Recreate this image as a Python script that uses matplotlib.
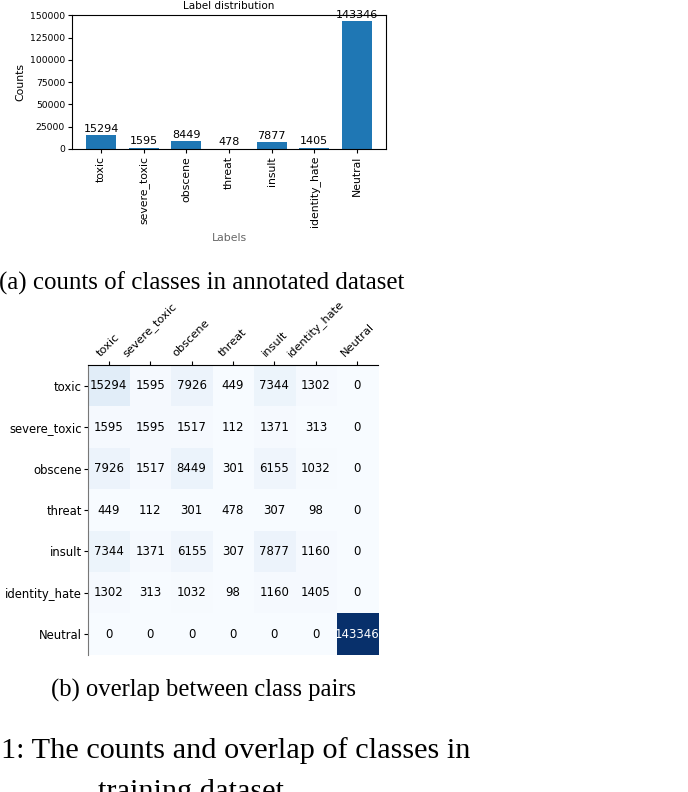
import matplotlib
matplotlib.use("Agg")
import matplotlib.pyplot as plt
from matplotlib.ticker import MultipleLocator
import numpy as np

labels = ['toxic', 'severe_toxic', 'obscene', 'threat', 'insult', 'identity_hate', 'Neutral']
counts = [15294, 1595, 8449, 478, 7877, 1405, 143346]

row_toxic = [15294, 1595, 7926, 449, 7344, 1302, 0]
row_severe = [1595, 1595, 1517, 112, 1371, 313, 0]
row_obscene = [7926, 1517, 8449, 301, 6155, 1032, 0]
row_threat = [449, 112, 301, 478, 307, 98, 0]
row_insult = [7344, 1371, 6155, 307, 7877, 1160, 0]
row_identity = [1302, 313, 1032, 98, 1160, 1405, 0]
row_neutral = [0, 0, 0, 0, 0, 0, 143346]

W, H = 688, 792
fig = plt.figure(figsize=(W / 100, H / 100), dpi=100)

def rect(l, t, r, b):
    return [l / W, 1 - b / H, (r - l) / W, (b - t) / H]

# ---- (a) bar chart ----
ax1 = fig.add_axes(rect(72, 15, 386, 149))
bars = ax1.bar(labels, counts, width=0.7, color='#1f77b4')
ax1.bar_label(bars, fontsize=8, padding=1)
ax1.set_title('Label distribution', fontsize=7.5, pad=4)
ax1.set_ylabel('Counts', fontsize=7.8, labelpad=3)
ax1.set_xlabel('Labels', fontsize=7.8, color='#666666')
ax1.yaxis.set_major_locator(MultipleLocator(25000))
ax1.tick_params(axis='both', length=3, pad=2)
ax1.tick_params(axis='y', labelsize=6.7)
ax1.tick_params(axis='x', labelsize=7.8)
plt.setp(ax1.get_xticklabels(), rotation=90)

# ---- (b) heatmap ----
M = np.array([row_toxic, row_severe, row_obscene, row_threat,
              row_insult, row_identity, row_neutral])
ax2 = fig.add_axes(rect(88, 365, 378, 655))
ax2.imshow(M, cmap='Blues', aspect='auto')
ax2.xaxis.tick_top()
ax2.set_xticks(range(len(labels)))
ax2.set_yticks(range(len(labels)))
ax2.set_xticklabels(labels, fontsize=8.2, rotation=45)
ax2.set_yticklabels(labels, fontsize=8.4)
ax2.tick_params(axis='both', length=3, pad=1.5)
ax2.spines['right'].set_visible(False)
ax2.spines['bottom'].set_visible(False)
ax2.spines['left'].set_color('#777777')
vmax = M.max()
for i in range(M.shape[0]):
    for j in range(M.shape[1]):
        v = M[i, j]
        ax2.text(j, i, str(v), ha='center', va='center', fontsize=8.5,
                 color='white' if v > vmax / 2 else 'black', clip_on=True)

# ---- captions ----
serif = 'Liberation Serif'
fig.text(202 / W, 1 - 290 / H, '(a) counts of classes in annotated dataset',
         ha='center', va='baseline', fontsize=17.9, family=serif)
fig.text(203 / W, 1 - 697 / H, '(b) overlap between class pairs',
         ha='center', va='baseline', fontsize=17.7, family=serif)
fig.text(1 / W, 1 - 758 / H, '1: The counts and overlap of classes in',
         ha='left', va='baseline', fontsize=21.8, family=serif)
fig.text(98 / W, 1 - 799 / H, 'training dataset',
         ha='left', va='baseline', fontsize=21.8, family=serif)

fig.savefig('out.png', dpi=100)
